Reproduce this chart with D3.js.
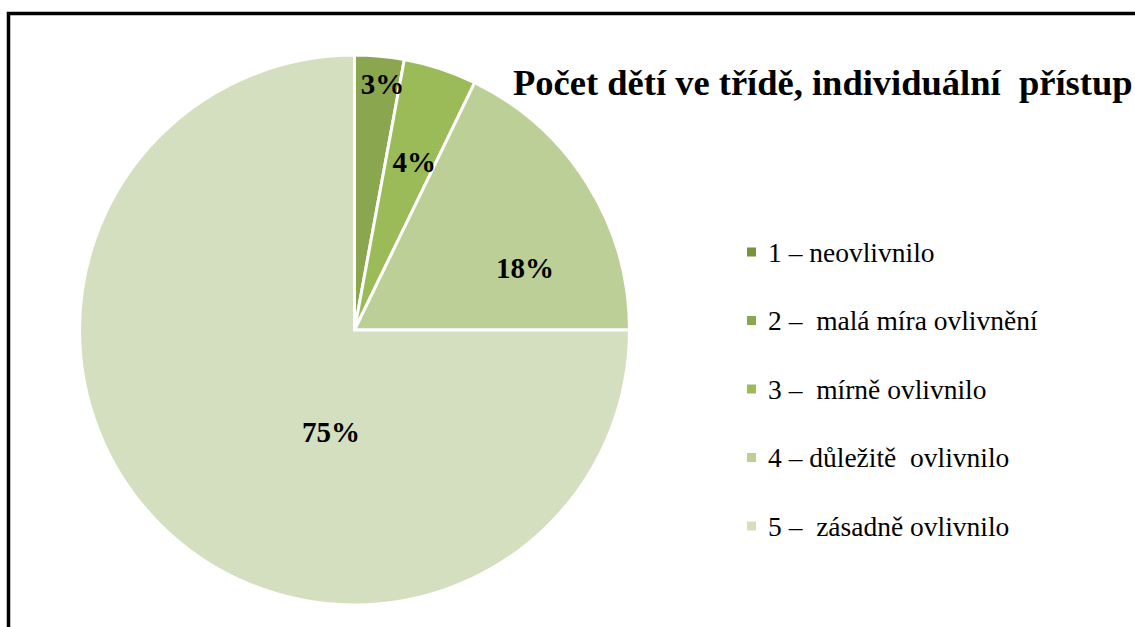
<!DOCTYPE html>
<html>
<head>
<meta charset="utf-8">
<script src="https://d3js.org/d3.v7.min.js"></script>
<style>
  body { margin: 0; background: #fff; }
  svg { display: block; font-family: "Liberation Serif", "Times New Roman", serif; }
</style>
</head>
<body>
<svg id="chart" width="1135" height="627"></svg>
<script>
// data
var categories = ["1 – neovlivnilo", "2 –  malá míra ovlivnění", "3 –  mírně ovlivnilo", "4 – důležitě  ovlivnilo", "5 –  zásadně ovlivnilo"];
var values = [0, 2.9, 4.3, 17.8, 75];
var colors = ["#77933c", "#8aa64e", "#9bbb59", "#bbcf97", "#d3dfbf"];
var title = "Počet dětí ve třídě, individuální  přístup";

// label placement (radius fraction, angle in degrees from 12 o'clock)
var labelPlace = [null, [0.9, 6.5], [0.65, 19.5], [0.66, 70], [0.38, 193]];

var svg = d3.select("#chart");

// frame (runs off the right and bottom)
svg.append("rect")
  .attr("x", 8.5).attr("y", 13.5)
  .attr("width", 1200).attr("height", 700)
  .attr("fill", "none")
  .attr("stroke", "#000")
  .attr("stroke-width", 3.5);

var cx = 354.5, cy = 330, R = 275;

var pie = d3.pie().sort(null).value(function(d) { return d; });
var arc = d3.arc().innerRadius(0).outerRadius(R);
var arcs = pie(values);

var g = svg.append("g").attr("transform", "translate(" + cx + "," + cy + ")");

g.selectAll("path.slice")
  .data(arcs.filter(function(d) { return d.value > 0; }))
  .enter().append("path")
  .attr("class", "slice")
  .attr("d", arc)
  .attr("fill", function(d) { return colors[d.index]; })
  .attr("stroke", "#fff")
  .attr("stroke-width", 3)
  .attr("stroke-linejoin", "miter");

// percent labels
arcs.forEach(function(d) {
  if (d.value <= 0) return;
  var p = labelPlace[d.index];
  var a = p[1] * Math.PI / 180, r = p[0] * R;
  g.append("text")
    .attr("x", r * Math.sin(a))
    .attr("y", -r * Math.cos(a))
    .attr("dy", "0.35em")
    .attr("text-anchor", "middle")
    .style("font-size", "29px")
    .style("font-weight", "bold")
    .attr("fill", "#000")
    .text(d3.format(".0%")(d.value / d3.sum(values)));
});

// title
svg.append("text")
  .attr("x", 513).attr("y", 95)
  .style("font-size", "36.5px")
  .style("font-weight", "bold")
  .style("white-space", "pre")
  .attr("fill", "#000")
  .text(title);

// legend
var ly = d3.scalePoint().domain(categories).range([252, 526]);
var leg = svg.append("g");
categories.forEach(function(c, i) {
  leg.append("rect")
    .attr("x", 747).attr("y", ly(c) - 4.5)
    .attr("width", 9).attr("height", 9)
    .attr("fill", colors[i]);
  leg.append("text")
    .attr("x", 768).attr("y", ly(c))
    .attr("dy", "0.36em")
    .style("font-size", "27.5px")
    .style("white-space", "pre")
    .attr("fill", "#000")
    .text(c);
});
</script>
</body>
</html>
